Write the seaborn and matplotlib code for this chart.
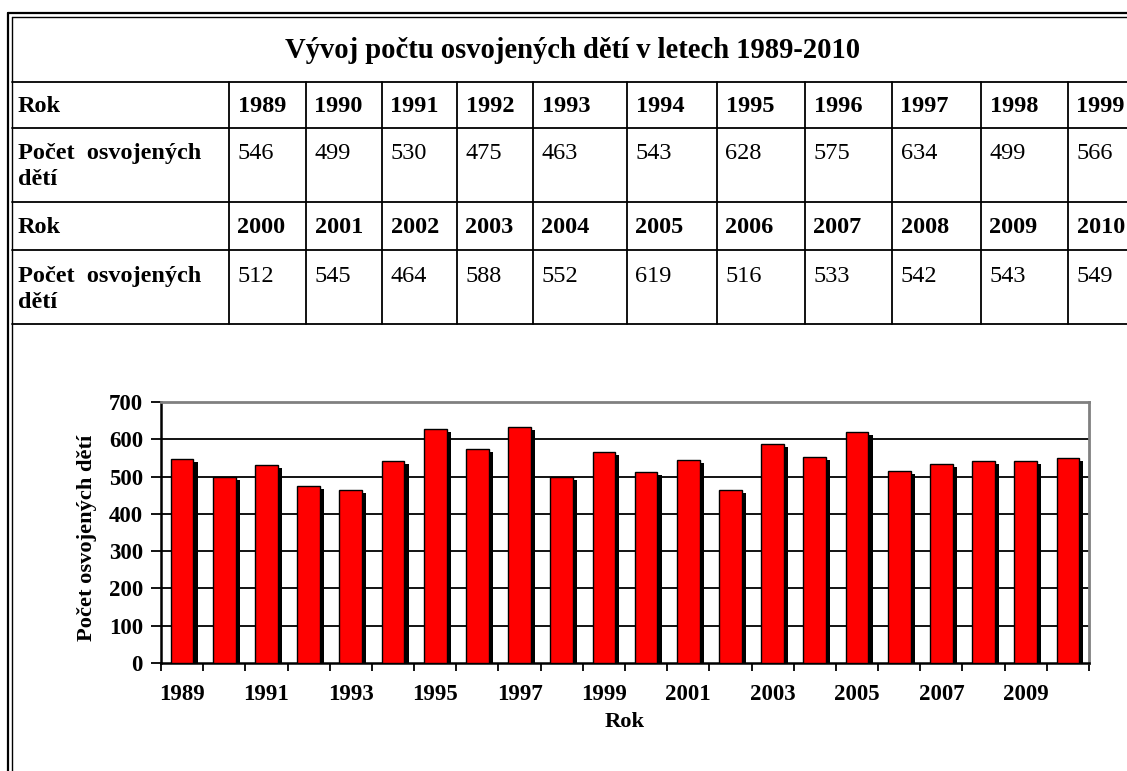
import numpy as np
import matplotlib
matplotlib.use("Agg")
import matplotlib.pyplot as plt
import matplotlib.patheffects as pe
import seaborn as sns

# data
title = "Vývoj počtu osvojených dětí v letech 1989-2010"
years = [1989, 1990, 1991, 1992, 1993, 1994, 1995, 1996, 1997, 1998, 1999,
         2000, 2001, 2002, 2003, 2004, 2005, 2006, 2007, 2008, 2009, 2010]
counts = [546, 499, 530, 475, 463, 543, 628, 575, 634, 499, 566,
          512, 545, 464, 588, 552, 619, 516, 533, 542, 543, 549]
row_label_year = "Rok"
row_label_count = ["Počet  osvojených", "dětí"]
y_label = "Počet osvojených dětí"
x_label = "Rok"

sns.set_theme(style="ticks", rc={"text.color": "black",
                                 "axes.labelcolor": "black",
                                 "xtick.color": "black",
                                 "ytick.color": "black"})
plt.rcParams['font.family'] = ['Liberation Serif', 'DejaVu Serif']

W, H = 1127, 771
fig = plt.figure(figsize=(W / 100, H / 100), dpi=100)

# ---- table drawn in pixel coordinates on a background axes
bg = fig.add_axes([0, 0, 1, 1])
bg.set_xlim(0, W)
bg.set_ylim(H, 0)
bg.axis("off")

# outer double border
bg.plot([8, W], [13, 13], color="black", lw=1.6)
bg.plot([12, W], [17, 17], color="black", lw=1.0)
bg.plot([8, 8], [13, H], color="black", lw=1.6)
bg.plot([12, 12], [17, H], color="black", lw=1.0)

# inner grid
row_lines = [82, 128, 202, 250, 324]
col_edges = [229, 306, 382, 457, 533, 627, 717, 805, 892, 981, 1068]
for yl in row_lines:
    bg.plot([12, W], [yl, yl], color="black", lw=1.3)
for xc in col_edges:
    bg.plot([xc, xc], [82, 324], color="black", lw=1.3)

bg.text(573, 58, title, fontsize=20.6, fontweight="bold", ha="center",
        va="baseline", color="black")

fs_tab = 17.5
line_h = 26
for r, (yb_year, yb_cnt) in enumerate([(112, 159), (233, 282)]):
    bg.text(18, yb_year, row_label_year, fontsize=fs_tab, fontweight="bold",
            va="baseline")
    for k, line in enumerate(row_label_count):
        bg.text(18, yb_cnt + k * line_h, line, fontsize=fs_tab,
                fontweight="bold", va="baseline")
    ys = years[r * 11:(r + 1) * 11]
    cs = counts[r * 11:(r + 1) * 11]
    for xc, yv, cv in zip(col_edges, ys, cs):
        bg.text(xc + 8.5, yb_year, str(yv), fontsize=fs_tab,
                fontweight="bold", va="baseline")
        bg.text(xc + 8.5, yb_cnt, str(cv), fontsize=fs_tab, va="baseline")

# ---- bar chart
left, right, top, bottom = 161, 1089, 402, 663
ax = fig.add_axes([left / W, (H - bottom) / H, (right - left) / W,
                   (bottom - top) / H])

year_str = [str(y) for y in years]
sns.barplot(x=year_str, y=counts, color="#ff0000", saturation=1, width=0.54,
            edgecolor="black", linewidth=1.0, ax=ax, zorder=3)
for p in ax.patches:
    p.set_path_effects([pe.SimplePatchShadow(offset=(3.0, -2.2),
                                             shadow_rgbFace="black", alpha=1),
                        pe.Normal()])

ax.set_ylim(0, 700)
ax.set_xlim(-0.5, len(years) - 0.5)
ax.set_yticks(range(0, 701, 100))
ax.yaxis.grid(True, color="black", linewidth=1.3)
ax.set_axisbelow(True)
gl = ax.yaxis.get_gridlines()
gl[0].set_visible(False)
gl[-1].set_visible(False)

ax.set_xticks(np.arange(-0.5, len(years), 1.0))
ax.set_xticklabels([])
ax.set_xticks(range(0, len(years), 2), labels=year_str[::2], minor=True)
ax.tick_params(axis="x", which="major", length=6, width=1.3, color="black",
               direction="out")
ax.tick_params(axis="x", which="minor", length=0, pad=15, labelsize=16.5)
ax.tick_params(axis="y", length=7, width=1.3, color="black", pad=6,
               labelsize=16.5)
for lab in ax.get_xticklabels(minor=True) + ax.get_yticklabels():
    lab.set_fontweight("bold")

for s in ["left", "bottom"]:
    ax.spines[s].set_color("black")
    ax.spines[s].set_linewidth(1.8)
for s in ["top", "right"]:
    ax.spines[s].set_color("#808080")
    ax.spines[s].set_linewidth(2.0)

ax.set_ylabel(y_label, fontsize=16.2, fontweight="bold")
ax.yaxis.set_label_coords((87 - left) / (right - left),
                          1 - (538 - top) / (bottom - top))
ax.yaxis.label.set_va("center")
ax.set_xlabel(x_label, fontsize=16.2, fontweight="bold")
ax.xaxis.set_label_coords(0.5, -(722 - bottom) / (bottom - top))
ax.xaxis.label.set_va("center")

fig.savefig("out.png", dpi=100)
